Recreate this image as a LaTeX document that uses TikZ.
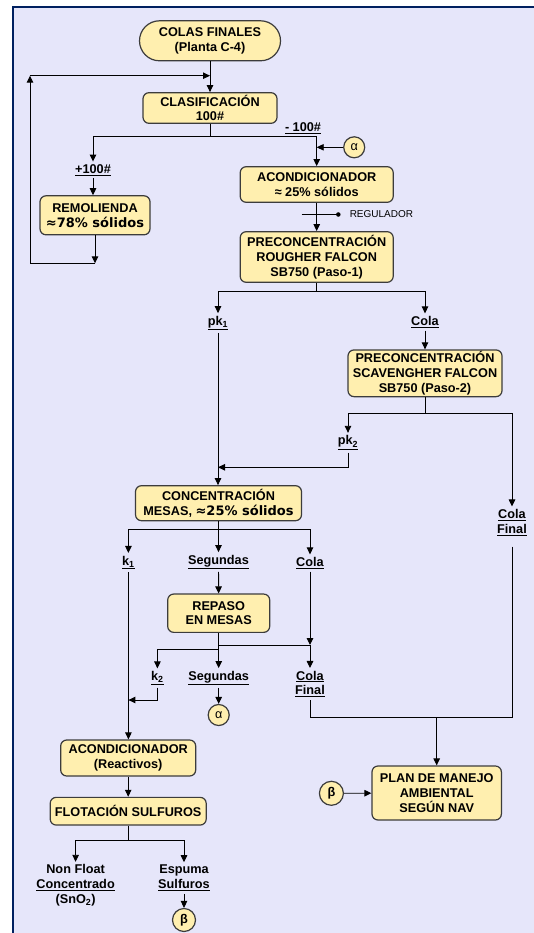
\documentclass[tikz,border=0pt]{standalone}
\usepackage{fontspec}
\setmainfont{Liberation Sans}
\newfontfamily\vdn{DejaVu Sans}
\usetikzlibrary{arrows.meta}
\definecolor{bgc}{RGB}{230,230,250}
\definecolor{framec}{RGB}{0,32,96}
\definecolor{boxc}{RGB}{255,239,175}
\definecolor{edgec}{RGB}{60,60,60}
\newcommand{\sz}{\fontsize{12.7}{14.8}\selectfont}
\newcommand{\vsz}{\vdn\bfseries\fontsize{13}{14.8}\selectfont}

\begin{document}
\begin{tikzpicture}[x=1pt, y=-1pt, line width=0.9pt, >={Triangle[length=7pt,width=6.5pt]},
  font=\bfseries\sz,
  box/.style={draw=edgec, line width=1.2pt, fill=boxc, rounded corners=6pt, align=center, inner sep=0pt},
  lbl/.style={align=center, inner sep=2.5pt},
  circ/.style={draw=edgec, line width=1.2pt, fill=boxc, circle, inner sep=0pt, minimum size=#1},
  circ/.default=21pt]
\useasboundingbox (0,0) rectangle (534,933);
\fill[bgc] (12.9,7.3) rectangle (534,933);
\draw[framec, line width=2pt] (12.9,933) -- (12.9,7.3) -- (534,7.3);

\node[box, rounded corners=20pt, minimum width=141pt, minimum height=40pt] (colas) at (210,40.8) {COLAS FINALES\\(Planta C-4)};
\node[box, minimum width=134pt, minimum height=30.6pt] (clasif) at (210,108) {CLASIFICACIÓN\\100\#};
\node[box, minimum width=110pt, minimum height=39pt] (remol) at (95,215.3) {REMOLIENDA\\{\vsz ≈78\% sólidos}};
\node[box, minimum width=153pt, minimum height=35.6pt] (acond) at (316.7,184.5) {ACONDICIONADOR\\≈ 25\% sólidos};
\node[box, minimum width=153pt, minimum height=50.6pt] (rough) at (316.7,257) {PRECONCENTRACIÓN\\ROUGHER FALCON\\SB750 (Paso-1)};
\node[box, minimum width=154pt, minimum height=46.7pt] (scav) at (425,373.3) {PRECONCENTRACIÓN\\SCAVENGHER FALCON\\SB750 (Paso-2)};
\node[box, minimum width=166pt, minimum height=35pt] (conc) at (218.5,503.2) {CONCENTRACIÓN\\MESAS, {\vsz ≈25\% sólidos}};
\node[box, minimum width=102pt, minimum height=38.3pt] (repaso) at (218.7,613.2) {REPASO\\EN MESAS};
\node[box, minimum width=135pt, minimum height=36pt] (acondr) at (128.2,758) {ACONDICIONADOR\\(Reactivos)};
\node[box, minimum width=156pt, minimum height=27.7pt] (flot) at (128.2,811.2) {FLOTACIÓN SULFUROS};
\node[box, minimum width=129.4pt, minimum height=54pt] (plan) at (436.7,793) {PLAN DE MANEJO\\AMBIENTAL\\SEGÚN NAV};

\node[circ] (alfaA) at (354.2,147.3) {\mdseries α};
\node[circ] (alfaB) at (218.7,715) {\mdseries α};
\node[circ=24pt] (betaA) at (331.4,793.3) {β};
\node[circ=23pt] (betaB) at (184,920) {β};

\node[lbl] (masc) at (93,170) {\underline{+100\#}};
\node[lbl] (menosc) at (303,128.3) {\underline{- 100\#}};
\node[lbl] (pkA) at (218,323) {\underline{pk\textsubscript{1}}};
\node[lbl] (colaA) at (425,322) {\underline{Cola}};
\node[lbl] (pkB) at (348,442.7) {\underline{pk\textsubscript{2}}};
\node[lbl] (colafinA) at (512,522.5) {\underline{Cola}\\\underline{Final}};
\node[lbl] (kA) at (128.4,562.5) {\underline{k\textsubscript{1}}};
\node[lbl] (segA) at (218.5,562) {\underline{Segundas}};
\node[lbl] (colaB) at (310,563) {\underline{Cola}};
\node[lbl] (kB) at (157.4,678) {\underline{k\textsubscript{2}}};
\node[lbl] (segB) at (218.7,678) {\underline{Segundas}};
\node[lbl] (colafinB) at (310,684) {\underline{Cola}\\\underline{Final}};
\node[lbl] (nonf) at (75.6,885.5) {Non Float\\\underline{Concentrado}\\(SnO\textsubscript{2})};
\node[lbl] (espuma) at (184,878) {Espuma\\\underline{Sulfuros}};
\node[circle, fill, inner sep=1.6pt] (regdot) at (338.3,214.5) {};
\node[anchor=west, inner sep=0pt, font=\fontsize{10}{12}\selectfont] (regtxt) at (349.3,214.5) {REGULADOR};

\coordinate (lpB) at (30,263.3);
\coordinate (lpT) at (30,75.7);
\coordinate (rmB) at (remol.south |- lpB);
\coordinate (lpJ) at (colas.south |- lpT);
\coordinate (clJ) at (210,136.7);
\coordinate (clL) at (masc |- clJ);
\coordinate (clR) at (acond |- clJ);
\coordinate (regL) at (301.7,214.5);
\coordinate (rgJ) at (316.7,291.7);
\coordinate (rgL) at (pkA |- rgJ);
\coordinate (rgR) at (colaA |- rgJ);
\coordinate (scJ) at (425,413.3);
\coordinate (scL) at (pkB |- scJ);
\coordinate (scR) at (colafinA |- scJ);
\coordinate (pkR) at (348,467.3);
\coordinate (pkJ) at (218,467.3);
\coordinate (ccJ) at (218.5,529.3);
\coordinate (ccL) at (kA |- ccJ);
\coordinate (ccR) at (colaB |- ccJ);
\coordinate (rpJ) at (218.7,645);
\coordinate (rpR) at (colaB |- rpJ);
\coordinate (rpK) at (218.7,649);
\coordinate (rpL) at (kB |- rpK);
\coordinate (kbR) at (157.4,700);
\coordinate (kbL) at (kA |- kbR);
\coordinate (fnR) at (512,717.7);
\coordinate (fnL) at (310,717.7);
\coordinate (fnJ) at (plan.north |- fnR);
\coordinate (flJ) at (128.2,840.7);
\coordinate (flL) at (nonf |- flJ);
\coordinate (flR) at (espuma |- flJ);

\draw[->] (colas) -- (clasif);
\draw[->] (remol) -- (rmB);
\draw[->] (rmB) -- (lpB) -- (lpT);
\draw[->] (lpT) -- (lpJ);
\draw (clasif) -- (clJ);
\draw[->] (clJ) -- (clL) -- (masc);
\draw[->] (clJ) -- (clR) -- (acond);
\draw[->] (alfaA) -- (alfaA -| acond);
\draw[->] (masc) -- (masc |- remol.north);
\draw[->] (acond) -- (rough);
\draw (regL) -- (regdot);
\draw (rough) -- (rgJ);
\draw[->] (rgJ) -- (rgL) -- (pkA);
\draw[->] (rgJ) -- (rgR) -- (colaA);
\draw[->] (colaA) -- (scav);
\draw (scav) -- (scJ);
\draw[->] (scJ) -- (scL) -- (pkB);
\draw[->] (scJ) -- (scR) -- (colafinA);
\draw[->] (pkB) -- (pkR) -- (pkJ);
\draw[->] (pkA) -- (pkA |- conc.north);
\draw (conc) -- (ccJ);
\draw[->] (ccJ) -- (ccL) -- (kA);
\draw[->] (ccJ) -- (segA);
\draw[->] (ccJ) -- (ccR) -- (colaB);
\draw[->] (segA) -- (repaso);
\draw (repaso) -- (rpK);
\draw (rpJ) -- (rpR);
\draw[->] (colaB) -- (rpR);
\draw[->] (rpR) -- (colafinB);
\draw[->] (rpK) -- (rpL) -- (kB);
\draw[->] (rpK) -- (segB);
\draw[->] (segB) -- (alfaB);
\draw[->] (kB) -- (kbR) -- (kbL);
\draw[->] (kA) -- (kA |- acondr.north);
\draw[shorten <=8pt] (colafinA) -- (fnR) -- (fnL) -- (colafinB);
\draw[->] (fnJ) -- (plan);
\draw[->] (betaA) -- (plan);
\draw[->] (acondr) -- (flot);
\draw (flot) -- (flJ);
\draw[->] (flJ) -- (flL) -- (nonf);
\draw[->] (flJ) -- (flR) -- (espuma);
\draw[->] (espuma) -- (betaB);
\end{tikzpicture}
\end{document}
